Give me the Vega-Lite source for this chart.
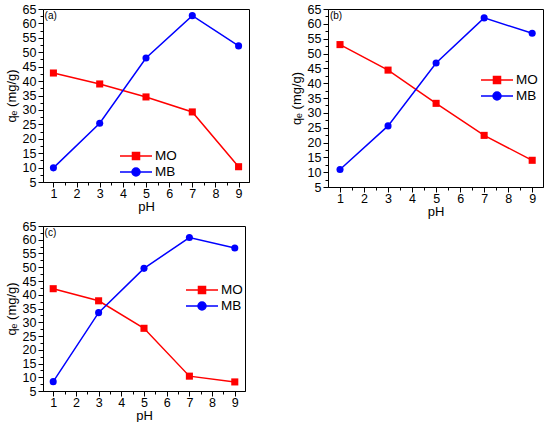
{
  "$schema": "https://vega.github.io/schema/vega-lite/v6.json",
  "background": "white",
  "padding": {"left": 4, "top": 2, "right": 0, "bottom": 0},
  "datasets": {
    "a": [
      {"pH": 1, "q": 42.8, "dye": "MO"}, {"pH": 3, "q": 39.0, "dye": "MO"}, {"pH": 5, "q": 34.5, "dye": "MO"}, {"pH": 7, "q": 29.3, "dye": "MO"}, {"pH": 9, "q": 10.3, "dye": "MO"},
      {"pH": 1, "q": 9.9, "dye": "MB"}, {"pH": 3, "q": 25.4, "dye": "MB"}, {"pH": 5, "q": 48.0, "dye": "MB"}, {"pH": 7, "q": 62.7, "dye": "MB"}, {"pH": 9, "q": 52.2, "dye": "MB"}
    ],
    "b": [
      {"pH": 1, "q": 53.0, "dye": "MO"}, {"pH": 3, "q": 44.4, "dye": "MO"}, {"pH": 5, "q": 33.2, "dye": "MO"}, {"pH": 7, "q": 22.4, "dye": "MO"}, {"pH": 9, "q": 14.0, "dye": "MO"},
      {"pH": 1, "q": 10.9, "dye": "MB"}, {"pH": 3, "q": 25.6, "dye": "MB"}, {"pH": 5, "q": 46.8, "dye": "MB"}, {"pH": 7, "q": 62.0, "dye": "MB"}, {"pH": 9, "q": 56.8, "dye": "MB"}
    ],
    "c": [
      {"pH": 1, "q": 42.2, "dye": "MO"}, {"pH": 3, "q": 37.8, "dye": "MO"}, {"pH": 5, "q": 27.8, "dye": "MO"}, {"pH": 7, "q": 10.4, "dye": "MO"}, {"pH": 9, "q": 8.3, "dye": "MO"},
      {"pH": 1, "q": 8.4, "dye": "MB"}, {"pH": 3, "q": 33.5, "dye": "MB"}, {"pH": 5, "q": 49.6, "dye": "MB"}, {"pH": 7, "q": 60.8, "dye": "MB"}, {"pH": 9, "q": 57.0, "dye": "MB"}
    ]
  },
  "spacing": 0,
  "resolve": {"scale": {"color": "independent"}, "legend": {"color": "independent"}},
  "vconcat": [
    {
      "spacing": 39,
      "resolve": {"scale": {"color": "independent"}, "legend": {"color": "independent"}},
      "hconcat": [
        {
          "width": 206, "height": 173,
          "encoding": {
            "x": {"field": "pH", "type": "quantitative", "scale": {"domain": [0.55, 9.45], "nice": false, "zero": false},
              "axis": {"title": "pH", "format": "~g", "values": [1,1.5,2,2.5,3,3.5,4,4.5,5,5.5,6,6.5,7,7.5,8,8.5,9], "labelExpr": "datum.value % 1 === 0 ? datum.label : ''", "tickSize": {"condition": {"test": "datum.value % 1 !== 0", "value": 3}, "value": 5}}},
            "y": {"field": "q", "type": "quantitative", "scale": {"domain": [5, 65], "nice": false, "zero": false},
              "axis": {"title": "qₑ (mg/g)", "format": "~g", "values": [5,7.5,10,12.5,15,17.5,20,22.5,25,27.5,30,32.5,35,37.5,40,42.5,45,47.5,50,52.5,55,57.5,60,62.5,65], "labelExpr": "datum.value % 5 === 0 ? datum.label : ''", "tickSize": {"condition": {"test": "datum.value % 5 !== 0", "value": 3}, "value": 5}}}
          },
          "layer": [
            {"data": {"name": "a"}, "mark": {"type": "line", "strokeWidth": 1.5},
              "encoding": {"color": {"field": "dye", "type": "nominal", "scale": {"domain": ["MO", "MB"], "range": ["#ff0000", "#0000ff"]},
                "legend": {"orient": "none", "legendX": 76, "legendY": 140, "title": null,
                  "encode": {"symbols": {"update": {
                    "shape": {"signal": "datum.value === 'MO' ? 'M-1,0H1M-0.22,-0.22H0.22V0.22H-0.22Z' : 'M-1,0H1M0.25,0A0.25,0.25,0,1,1,-0.25,0A0.25,0.25,0,1,1,0.25,0Z'"},
                    "fill": {"signal": "datum.value === 'MO' ? '#ff0000' : '#0000ff'"},
                    "stroke": {"signal": "datum.value === 'MO' ? '#ff0000' : '#0000ff'"},
                    "strokeWidth": {"value": 1.5}, "size": {"value": 1024}, "opacity": {"value": 1}, "fillOpacity": {"value": 1}}}}}}}},
            {"data": {"name": "a"}, "mark": {"type": "point", "filled": true, "size": 50, "opacity": 1},
              "encoding": {"color": {"field": "dye", "type": "nominal"},
                "shape": {"condition": {"test": "datum.dye === 'MO'", "value": "square"}, "value": "circle"}}},
            {"data": {"values": [{"label": "(a)", "px": 0.62, "py": 64.3}]},
              "mark": {"type": "text", "align": "left", "baseline": "top", "fontSize": 10, "fill": "black"},
              "encoding": {"x": {"field": "px", "type": "quantitative"}, "y": {"field": "py", "type": "quantitative"}, "text": {"field": "label", "type": "nominal"}}}
          ]
        },
        {
          "width": 215, "height": 178,
          "encoding": {
            "x": {"field": "pH", "type": "quantitative", "scale": {"domain": [0.5, 9.45], "nice": false, "zero": false},
              "axis": {"title": "pH", "format": "~g", "values": [1,1.5,2,2.5,3,3.5,4,4.5,5,5.5,6,6.5,7,7.5,8,8.5,9], "labelExpr": "datum.value % 1 === 0 ? datum.label : ''", "tickSize": {"condition": {"test": "datum.value % 1 !== 0", "value": 3}, "value": 5}}},
            "y": {"field": "q", "type": "quantitative", "scale": {"domain": [5, 65], "nice": false, "zero": false},
              "axis": {"title": "qₑ (mg/g)", "format": "~g", "values": [5,7.5,10,12.5,15,17.5,20,22.5,25,27.5,30,32.5,35,37.5,40,42.5,45,47.5,50,52.5,55,57.5,60,62.5,65], "labelExpr": "datum.value % 5 === 0 ? datum.label : ''", "tickSize": {"condition": {"test": "datum.value % 5 !== 0", "value": 3}, "value": 5}}}
          },
          "layer": [
            {"data": {"name": "b"}, "mark": {"type": "line", "strokeWidth": 1.5},
              "encoding": {"color": {"field": "dye", "type": "nominal", "scale": {"domain": ["MO", "MB"], "range": ["#ff0000", "#0000ff"]},
                "legend": {"orient": "none", "legendX": 152, "legendY": 64, "title": null,
                  "encode": {"symbols": {"update": {
                    "shape": {"signal": "datum.value === 'MO' ? 'M-1,0H1M-0.22,-0.22H0.22V0.22H-0.22Z' : 'M-1,0H1M0.25,0A0.25,0.25,0,1,1,-0.25,0A0.25,0.25,0,1,1,0.25,0Z'"},
                    "fill": {"signal": "datum.value === 'MO' ? '#ff0000' : '#0000ff'"},
                    "stroke": {"signal": "datum.value === 'MO' ? '#ff0000' : '#0000ff'"},
                    "strokeWidth": {"value": 1.5}, "size": {"value": 1024}, "opacity": {"value": 1}, "fillOpacity": {"value": 1}}}}}}}},
            {"data": {"name": "b"}, "mark": {"type": "point", "filled": true, "size": 50, "opacity": 1},
              "encoding": {"color": {"field": "dye", "type": "nominal"},
                "shape": {"condition": {"test": "datum.dye === 'MO'", "value": "square"}, "value": "circle"}}},
            {"data": {"values": [{"label": "(b)", "px": 0.58, "py": 64.3}]},
              "mark": {"type": "text", "align": "left", "baseline": "top", "fontSize": 10, "fill": "black"},
              "encoding": {"x": {"field": "px", "type": "quantitative"}, "y": {"field": "py", "type": "quantitative"}, "text": {"field": "label", "type": "nominal"}}}
          ]
        }
      ]
    },
    {
      "width": 202, "height": 165,
      "encoding": {
        "x": {"field": "pH", "type": "quantitative", "scale": {"domain": [0.55, 9.45], "nice": false, "zero": false},
          "axis": {"title": "pH", "format": "~g", "values": [1,1.5,2,2.5,3,3.5,4,4.5,5,5.5,6,6.5,7,7.5,8,8.5,9], "labelExpr": "datum.value % 1 === 0 ? datum.label : ''", "tickSize": {"condition": {"test": "datum.value % 1 !== 0", "value": 3}, "value": 5}}},
        "y": {"field": "q", "type": "quantitative", "scale": {"domain": [5, 65], "nice": false, "zero": false},
          "axis": {"title": "qₑ (mg/g)", "format": "~g", "values": [5,7.5,10,12.5,15,17.5,20,22.5,25,27.5,30,32.5,35,37.5,40,42.5,45,47.5,50,52.5,55,57.5,60,62.5,65], "labelExpr": "datum.value % 5 === 0 ? datum.label : ''", "tickSize": {"condition": {"test": "datum.value % 5 !== 0", "value": 3}, "value": 5}}}
      },
      "layer": [
        {"data": {"name": "c"}, "mark": {"type": "line", "strokeWidth": 1.5},
          "encoding": {"color": {"field": "dye", "type": "nominal", "scale": {"domain": ["MO", "MB"], "range": ["#ff0000", "#0000ff"]},
            "legend": {"orient": "none", "legendX": 142, "legendY": 57, "title": null,
              "encode": {"symbols": {"update": {
                "shape": {"signal": "datum.value === 'MO' ? 'M-1,0H1M-0.22,-0.22H0.22V0.22H-0.22Z' : 'M-1,0H1M0.25,0A0.25,0.25,0,1,1,-0.25,0A0.25,0.25,0,1,1,0.25,0Z'"},
                "fill": {"signal": "datum.value === 'MO' ? '#ff0000' : '#0000ff'"},
                "stroke": {"signal": "datum.value === 'MO' ? '#ff0000' : '#0000ff'"},
                "strokeWidth": {"value": 1.5}, "size": {"value": 1024}, "opacity": {"value": 1}, "fillOpacity": {"value": 1}}}}}}}},
        {"data": {"name": "c"}, "mark": {"type": "point", "filled": true, "size": 50, "opacity": 1},
          "encoding": {"color": {"field": "dye", "type": "nominal"},
            "shape": {"condition": {"test": "datum.dye === 'MO'", "value": "square"}, "value": "circle"}}},
        {"data": {"values": [{"label": "(c)", "px": 0.62, "py": 64.3}]},
          "mark": {"type": "text", "align": "left", "baseline": "top", "fontSize": 10, "fill": "black"},
          "encoding": {"x": {"field": "px", "type": "quantitative"}, "y": {"field": "py", "type": "quantitative"}, "text": {"field": "label", "type": "nominal"}}}
      ]
    }
  ],
  "config": {
    "font": "Liberation Sans",
    "view": {"stroke": "black", "strokeWidth": 1},
    "axis": {"grid": false, "domainColor": "black", "tickColor": "black", "labelColor": "black", "titleColor": "black",
      "labelFont": "Liberation Sans", "labelFontSize": 12.5, "titleFont": "Liberation Sans", "titleFontSize": 13, "titleFontWeight": "normal",
      "labelPadding": 2, "titlePadding": 2},
    "axisX": {"labelPadding": 0, "titlePadding": 1},
    "axisY": {"titlePadding": 4},
    "legend": {"labelFont": "Liberation Sans", "labelFontSize": 13.5, "labelColor": "black", "symbolSize": 1024, "clipHeight": 14, "rowPadding": 2, "labelOffset": 2, "padding": 0}
  }
}
